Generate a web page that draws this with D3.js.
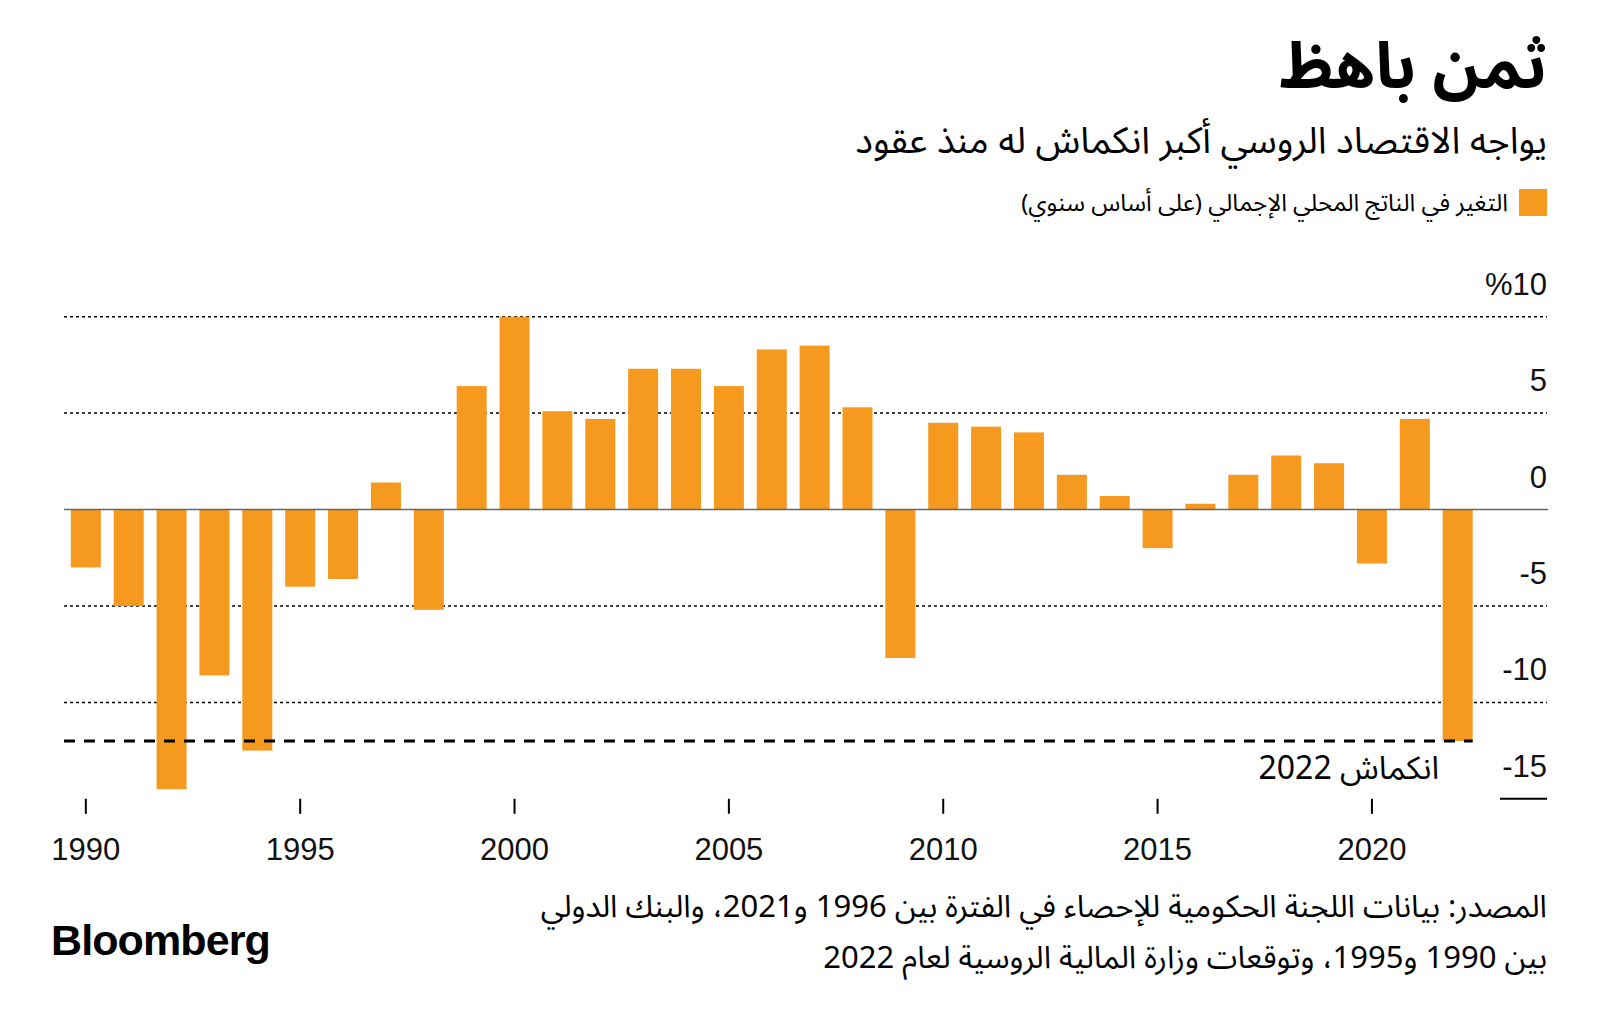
<!DOCTYPE html>
<html>
<head>
<meta charset="utf-8">
<script src="https://cdn.jsdelivr.net/npm/d3@7"></script>
<style>
  body { margin: 0; background: #fff; }
  svg { display: block; }
  .ar { font-family: "Noto Sans Arabic", "DejaVu Sans", sans-serif; }
  .lat { font-family: "Liberation Sans", Arial, sans-serif; }
</style>
</head>
<body>
<svg id="chart" width="1600" height="1022"></svg>
<script>
// ---- data ----
const years = d3.range(1990, 2023);
const gdpGrowth = [-3.0, -5.0, -14.5, -8.6, -12.5, -4.0, -3.6, 1.4, -5.2, 6.4,
                   10.0, 5.1, 4.7, 7.3, 7.3, 6.4, 8.3, 8.5, 5.3, -7.7,
                   4.5, 4.3, 4.0, 1.8, 0.7, -2.0, 0.3, 1.8, 2.8, 2.4,
                   -2.8, 4.7, -12.0];
const yTicks = [10, 5, 0, -5, -10, -15];
const yTickLabels = ["%10", "5", "0", "-5", "-10", "-15"];
const xTickYears = [1990, 1995, 2000, 2005, 2010, 2015, 2020];
const forecast2022 = -12.0;

const title = "ثمن باهظ";
const subtitle = "يواجه الاقتصاد الروسي أكبر انكماش له منذ عقود";
const legendLabel = "التغير في الناتج المحلي الإجمالي (على أساس سنوي)";
const annotation = "انكماش 2022";
const sourceLines = ["المصدر: بيانات اللجنة الحكومية للإحصاء في الفترة بين 1996 و2021، والبنك الدولي",
                     "بين 1990 و1995، وتوقعات وزارة المالية الروسية لعام 2022"];

const data = years.map((y, i) => ({ year: y, value: gdpGrowth[i] }));

// ---- layout ----
const svg = d3.select("#chart");
const orange = "#f5991f";
const rightEdge = 1547;

const x = d3.scaleBand()
  .domain(years)
  .range([64.4, 64.4 + 33 * 42.87])
  .paddingInner(0.3)
  .paddingOuter(0.15);

const y = d3.scaleLinear().domain([-15, 10]).range([798.8, 316.7]);

// header
svg.append("text").attr("class", "ar")
  .attr("x", rightEdge).attr("y", 88)
  .attr("direction", "rtl").attr("text-anchor", "start")
  .attr("font-size", 64).attr("font-weight", 700).attr("fill", "#000")
  .text(title);

svg.append("text").attr("class", "ar")
  .attr("x", rightEdge).attr("y", 153)
  .attr("direction", "rtl").attr("text-anchor", "start")
  .attr("font-size", 37).attr("fill", "#000")
  .text(subtitle);

svg.append("rect")
  .attr("x", 1519).attr("y", 189).attr("width", 28).attr("height", 27)
  .attr("fill", orange);
svg.append("text").attr("class", "ar")
  .attr("x", 1508).attr("y", 211)
  .attr("direction", "rtl").attr("text-anchor", "start")
  .attr("font-size", 24).attr("fill", "#000")
  .text(legendLabel);

// gridlines
const grid = svg.append("g");
grid.selectAll("line.grid")
  .data(yTicks.filter(v => v !== 0 && v !== -15))
  .join("line")
  .attr("x1", 64).attr("x2", rightEdge)
  .attr("y1", d => y(d)).attr("y2", d => y(d))
  .attr("stroke", "#000").attr("stroke-width", 1.5)
  .attr("stroke-dasharray", "3,3");

// -15 short solid line
svg.append("line")
  .attr("x1", 1500).attr("x2", rightEdge)
  .attr("y1", y(-15)).attr("y2", y(-15))
  .attr("stroke", "#000").attr("stroke-width", 2);

// y labels
svg.append("g").selectAll("text")
  .data(yTicks)
  .join("text")
  .attr("class", "lat")
  .attr("x", rightEdge)
  .attr("y", d => y(d) - 22)
  .attr("text-anchor", "end")
  .attr("font-size", 31)
  .attr("fill", "#111")
  .text((d, i) => yTickLabels[i]);

// bars
svg.append("g").selectAll("rect")
  .data(data)
  .join("rect")
  .attr("x", d => x(d.year))
  .attr("width", x.bandwidth())
  .attr("y", d => y(Math.max(0, d.value)))
  .attr("height", d => Math.abs(y(d.value) - y(0)))
  .attr("fill", orange);

// zero line
svg.append("line")
  .attr("x1", 64).attr("x2", rightEdge + 1)
  .attr("y1", y(0)).attr("y2", y(0))
  .attr("stroke", "#666").attr("stroke-width", 1.5);

// forecast dashed line
svg.append("line")
  .attr("x1", 64).attr("x2", x(2022) + x.bandwidth())
  .attr("y1", y(forecast2022)).attr("y2", y(forecast2022))
  .attr("stroke", "#000").attr("stroke-width", 3)
  .attr("stroke-dasharray", "11,9");

svg.append("text").attr("class", "ar")
  .attr("x", 1439).attr("y", y(forecast2022) + 38)
  .attr("direction", "rtl").attr("text-anchor", "start")
  .attr("font-size", 32).attr("fill", "#000")
  .text(annotation);

// x axis
const xAxis = d3.axisBottom(x)
  .tickValues(xTickYears)
  .tickSize(15)
  .tickPadding(24);
const gx = svg.append("g")
  .attr("transform", `translate(0,${y(-15)})`)
  .call(xAxis);
gx.select(".domain").remove();
gx.selectAll(".tick line").attr("stroke", "#000").attr("stroke-width", 2);
gx.selectAll(".tick text")
  .attr("class", "lat")
  .attr("font-size", 31)
  .attr("fill", "#111");

// footer
svg.append("text").attr("class", "ar")
  .attr("x", rightEdge).attr("y", 917)
  .attr("direction", "rtl").attr("text-anchor", "start")
  .attr("font-size", 31).attr("fill", "#000")
  .text(sourceLines[0]);
svg.append("text").attr("class", "ar")
  .attr("x", rightEdge).attr("y", 968)
  .attr("direction", "rtl").attr("text-anchor", "start")
  .attr("font-size", 31).attr("fill", "#000")
  .text(sourceLines[1]);

svg.append("text").attr("class", "lat")
  .attr("x", 51).attr("y", 955)
  .attr("font-size", 43).attr("font-weight", 700)
  .attr("letter-spacing", -0.9)
  .attr("fill", "#000")
  .text("Bloomberg");
</script>
</body>
</html>
